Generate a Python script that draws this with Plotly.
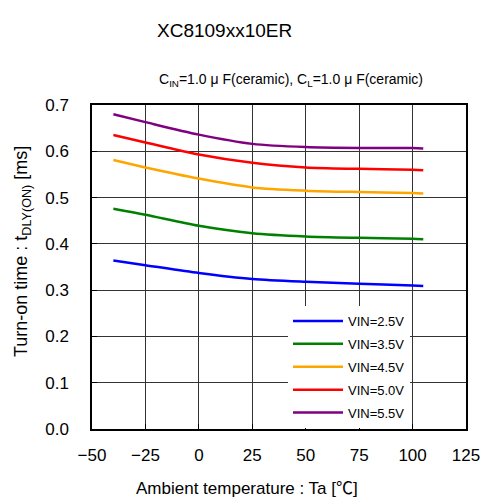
import plotly.graph_objects as go

temps = [-40, -25, 0, 25, 50, 75, 100, 105]
vin_labels = ["VIN=2.5V", "VIN=3.5V", "VIN=4.5V", "VIN=5.0V", "VIN=5.5V"]
vin_2_5 = [0.364, 0.354, 0.337, 0.324, 0.318, 0.314, 0.310, 0.309]
vin_3_5 = [0.476, 0.463, 0.439, 0.423, 0.416, 0.413, 0.411, 0.410]
vin_4_5 = [0.581, 0.565, 0.541, 0.522, 0.515, 0.512, 0.510, 0.509]
vin_5_0 = [0.635, 0.619, 0.593, 0.575, 0.565, 0.562, 0.560, 0.559]
vin_5_5 = [0.680, 0.663, 0.636, 0.616, 0.609, 0.607, 0.607, 0.606]
series = [vin_2_5, vin_3_5, vin_4_5, vin_5_0, vin_5_5]
colors = ["#0000FF", "#008000", "#FFA500", "#FF0000", "#800080"]

x_ticks = [-50, -25, 0, 25, 50, 75, 100, 125]
y_ticks = [0.0, 0.1, 0.2, 0.3, 0.4, 0.5, 0.6, 0.7]

FONT = "Liberation Sans, Arial, Noto Sans CJK JP, sans-serif"

W, H = 484, 497
L, T = 92, 105
R = W - 466
B = H - 429
PW, PH = W - L - R, H - T - B


def px(xw):
    return (xw - L) / PW


def py(yw):
    return (H - B - yw) / PH


fig = go.Figure()
for i, (name, vals, col) in enumerate(zip(vin_labels, series, colors)):
    fig.add_trace(go.Scatter(
        x=temps, y=vals, mode="lines", name=name,
        line=dict(color=col, width=2.5, shape="spline", smoothing=0.8),
        legendgroup=f"g{i}",
    ))

axis_common = dict(
    showline=True, linecolor="black", linewidth=1.5, mirror=True,
    showgrid=True, gridcolor="#333333", gridwidth=1,
    ticks="inside", ticklen=5, tickcolor="black",
    tickfont=dict(size=17, color="black", family=FONT),
    zeroline=False, automargin=False, ticklabeloverflow="allow",
)

fig.update_xaxes(
    range=[-50, 125], tickvals=x_ticks,
    ticktext=[f"\u2212{abs(v)}" if v < 0 else str(v) for v in x_ticks],
    ticklabelstandoff=10,
    **axis_common,
)
fig.update_yaxes(
    range=[0, 0.7], tickvals=y_ticks,
    ticktext=[f"{v:.1f}" for v in y_ticks],
    ticklabelstandoff=18,
    **axis_common,
)

fig.update_layout(
    width=W, height=H,
    margin=dict(l=L, r=R, t=T, b=B, autoexpand=False),
    plot_bgcolor="white", paper_bgcolor="white",
    showlegend=True,
    legend=dict(
        x=px(288), y=py(428), xanchor="left", yanchor="bottom",
        bgcolor="white", borderwidth=0,
        font=dict(size=13, color="black", family=FONT),
        tracegroupgap=3, traceorder="grouped", itemwidth=50,
    ),
    annotations=[
        dict(text="XC8109xx10ER", xref="paper", yref="paper", x=px(155), y=py(30),
             xanchor="left", yanchor="middle", showarrow=False,
             font=dict(size=19, color="black", family=FONT)),
        dict(text="C<sub>IN</sub>=1.0 \u03bc F(ceramic), C<sub>L</sub>=1.0 \u03bc F(ceramic)",
             xref="paper", yref="paper", x=px(157), y=py(80),
             xanchor="left", yanchor="middle", showarrow=False,
             font=dict(size=14, color="black", family=FONT)),
        dict(text="Ambient temperature : Ta [\u2103]", xref="paper", yref="paper",
             x=px(247), y=py(488), xanchor="center", yanchor="middle", showarrow=False,
             font=dict(size=17, color="black", family=FONT)),
        dict(text="Turn-on time : t<sub>DLY(ON)</sub> [ms]", xref="paper", yref="paper",
             x=px(22), y=py(252), xanchor="center", yanchor="middle", showarrow=False,
             textangle=-90, font=dict(size=18, color="black", family=FONT)),
    ],
)

fig.write_html(
    "out.html",
    config={"displayModeBar": False},
    post_script="document.body.style.margin='0px';document.body.style.overflow='hidden';",
)
